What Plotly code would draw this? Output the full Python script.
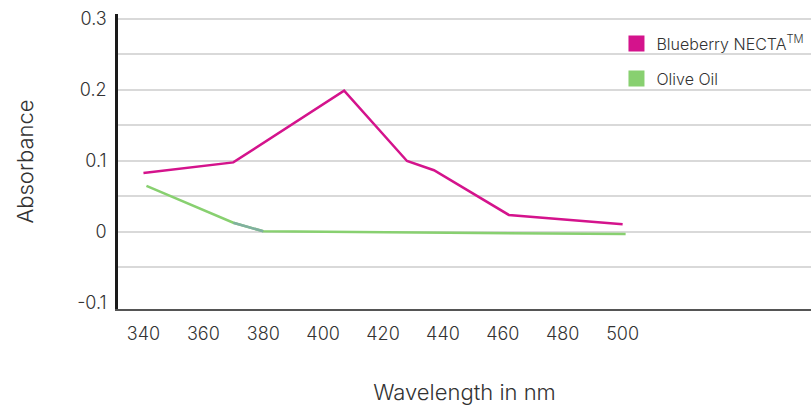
import plotly.graph_objects as go

# ---- data ----
wavelength_blueberry = [340, 370, 407, 428, 437, 462, 500]
absorbance_blueberry = [0.083, 0.098, 0.199, 0.100, 0.087, 0.024, 0.011]

wavelength_olive = [341, 370, 380, 501]
absorbance_olive = [0.065, 0.013, 0.001, -0.003]

series_names = ["Blueberry NECTA<sup>TM</sup>", "Olive Oil"]
series_colors = ["#d4138c", "#88d070"]
transition_color = "#80b0a0"

x_tick_vals = [340, 360, 380, 400, 420, 440, 460, 480, 500]
y_tick_vals = [-0.1, 0, 0.1, 0.2, 0.3]
y_tick_text = ["-0.1", "0", "0.1", "0.2", "0.3"]
y_grid_vals = [-0.05, 0, 0.05, 0.1, 0.15, 0.2, 0.25, 0.3]

FONT = "Inter"
W = 300
TEXT = "#333333"

fig = go.Figure()

fig.add_trace(go.Scatter(
    x=wavelength_blueberry, y=absorbance_blueberry, mode="lines",
    line=dict(color=series_colors[0], width=2.5), showlegend=False,
))
fig.add_trace(go.Scatter(
    x=wavelength_olive, y=absorbance_olive, mode="lines",
    line=dict(color=series_colors[1], width=2.5), showlegend=False,
))
# short grey-teal transition segment on the olive oil line
fig.add_trace(go.Scatter(
    x=wavelength_olive[1:3], y=absorbance_olive[1:3], mode="lines",
    line=dict(color=transition_color, width=2.5), showlegend=False,
))

# legend entries as squares
for i, (name, col) in enumerate(zip(series_names, series_colors)):
    fig.add_trace(go.Scatter(
        x=[None], y=[None], mode="markers", name=name,
        marker=dict(symbol="square", size=17, color=col),
        legendgroup=f"g{i}",
    ))

fig.update_layout(
    width=811, height=405,
    margin=dict(l=118, r=0, t=14, b=96, autoexpand=False),
    paper_bgcolor="white", plot_bgcolor="white",
    font=dict(family=FONT, color=TEXT, size=16, weight=W),
    legend=dict(
        x=0.7193, y=0.957, xanchor="left", yanchor="top",
        bgcolor="rgba(0,0,0,0)", font=dict(family=FONT, size=16, color=TEXT, weight=W),
        tracegroupgap=11, traceorder="grouped",
    ),
    xaxis=dict(
        range=[331.5, 562.9],
        tickmode="array", tickvals=x_tick_vals,
        showgrid=False, zeroline=False,
        showline=True, linecolor="#555555", linewidth=2,
        ticks="", ticklabelstandoff=7,
        tickfont=dict(family=FONT, size=18, color=TEXT, weight=W),
        title=dict(text="Wavelength in nm", font=dict(family=FONT, size=22, color=TEXT, weight=W), standoff=42),
    ),
    yaxis=dict(
        range=[-0.1085, 0.307],
        tickmode="array", tickvals=y_tick_vals, ticktext=y_tick_text,
        showgrid=False, zeroline=False,
        showline=True, linecolor="#1a1a1a", linewidth=2.5,
        ticks="", ticklabelstandoff=5,
        tickfont=dict(family=FONT, size=18, color=TEXT, weight=W),
        minor=dict(tickmode="array", tickvals=y_grid_vals, showgrid=True,
                   gridcolor="#d9d9d9", gridwidth=1.5, ticks=""),
        title=dict(text="Absorbance", font=dict(family=FONT, size=22, color=TEXT, weight=W), standoff=38),
    ),
)

fig.write_html("out.html")
